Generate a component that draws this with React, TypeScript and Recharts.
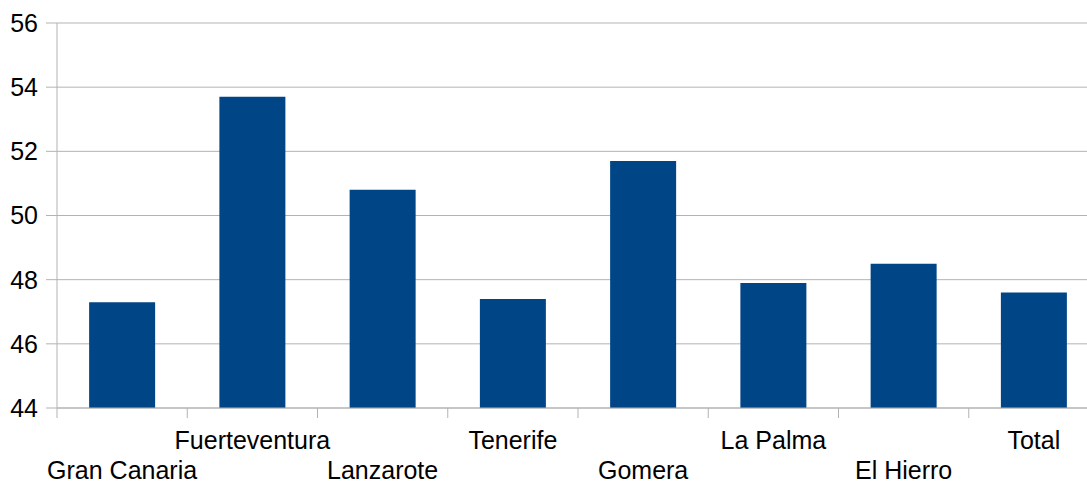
import { Bar, BarChart, CartesianGrid, XAxis, YAxis } from 'recharts';

const islands = ['Gran Canaria', 'Fuerteventura', 'Lanzarote', 'Tenerife', 'Gomera', 'La Palma', 'El Hierro', 'Total'];
const values = [47.3, 53.7, 50.8, 47.4, 51.7, 47.9, 48.5, 47.6];
const yTicks = [44, 46, 48, 50, 52, 54, 56];

const data = islands.map((name, i) => ({ name, value: values[i] }));

const CHART_W = 1100;
const PLOT_LEFT = 57;
const PLOT_RIGHT = 1;
const band = (CHART_W - PLOT_LEFT - PLOT_RIGHT) / islands.length;
const FONT = "'Liberation Sans', Arial, sans-serif";

function IslandTick(props: any) {
  const { x, y, payload, index } = props;
  const top = y - 8; // axis line position
  const lower = index % 2 === 0;
  return (
    <g>
      <line x1={x - band / 2} x2={x - band / 2} y1={top} y2={top + 10} stroke="#b3b3b3" strokeWidth={1} />
      <text x={x} y={top + (lower ? 71 : 41)} textAnchor="middle" fontSize={25} fill="#000" fontFamily={FONT}>
        {payload.value}
      </text>
    </g>
  );
}

export default function App() {
  return (
    <div style={{ position: 'fixed', left: 0, top: 0, width: 1087, height: 482, overflow: 'hidden', background: '#fff' }}>
      <BarChart
        width={CHART_W}
        height={482}
        data={data}
        margin={{ top: 23, right: PLOT_RIGHT, left: 0, bottom: 0 }}
        barCategoryGap="24.67%"
        style={{ overflow: 'visible' }}
      >
        <CartesianGrid vertical={false} stroke="#b3b3b3" />
        <XAxis
          dataKey="name"
          height={74}
          axisLine={{ stroke: '#b3b3b3' }}
          tickLine={false}
          tick={<IslandTick />}
          interval={0}
        />
        <YAxis
          width={PLOT_LEFT}
          domain={[44, 56]}
          ticks={yTicks}
          interval={0}
          axisLine={{ stroke: '#b3b3b3' }}
          tickLine={{ stroke: '#b3b3b3' }}
          tickSize={11}
          tickMargin={8}
          tick={{ fontSize: 25, fill: '#000', fontFamily: FONT }}
        />
        <Bar dataKey="value" fill="#004586" isAnimationActive={false} />
      </BarChart>
    </div>
  );
}
